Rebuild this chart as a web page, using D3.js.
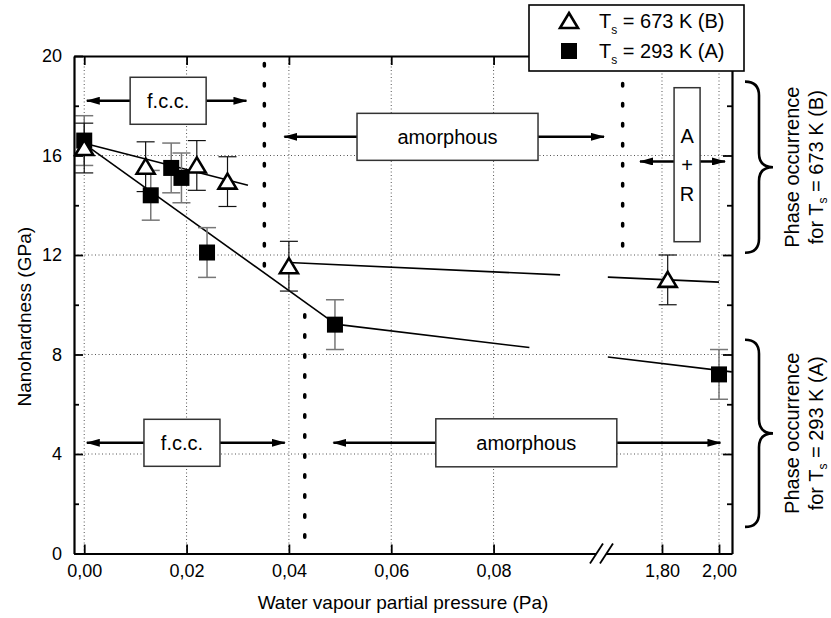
<!DOCTYPE html>
<html>
<head>
<meta charset="utf-8">
<script src="https://cdn.jsdelivr.net/npm/d3@7"></script>
<style>
  body { margin: 0; background: #fff; }
  text { font-family: "Liberation Sans", Arial, sans-serif; fill: #000; }
</style>
</head>
<body>
<div id="chart"></div>
<script>
// ---- data ----
const xTicks = [0, 0.02, 0.04, 0.06, 0.08, 1.80, 2.00];
const xTickLabels = ["0,00", "0,02", "0,04", "0,06", "0,08", "1,80", "2,00"];
const yTicks = [0, 4, 8, 12, 16, 20];
const yMinorTicks = [2, 6, 10, 14, 18];

// Ts = 293 K (A), filled squares
const pressA = [0, 0.013, 0.017, 0.019, 0.024, 0.049, 2.00];
const hardA  = [16.6, 14.4, 15.5, 15.1, 12.1, 9.2, 7.2];
const errA   = [1.0, 1.0, 1.0, 1.0, 1.0, 1.0, 1.0];

// Ts = 673 K (B), open triangles
const pressB = [0, 0.012, 0.022, 0.028, 0.040, 1.82];
const hardB  = [16.3, 15.55, 15.6, 14.95, 11.55, 11.0];
const errB   = [1.0, 1.0, 1.0, 1.0, 1.0, 1.0];

// guide lines, each segment [[x1,y1],[x2,y2]]
const fitB = [[[0, 16.49], [0.032, 14.8]], [[0.040, 11.7], [0.093, 11.2]], [[1.61, 11.11], [2.00, 10.91]]];
const fitA = [[[0, 16.47], [0.049, 9.24]], [[0.049, 9.22], [0.087, 8.28]], [[1.61, 7.90], [2.045, 7.30]]];

// phase annotations
const phaseLabels  = ["f.c.c.", "amorphous", "A+R", "f.c.c.", "amorphous"];
const phaseX       = [0.0164, 0.0710, 1.888, 0.0191, 0.0864];
const phaseY       = [18.2, 16.75, 15.63, 4.45, 4.45];
const arrowY       = [18.2, 16.75, 15.76, 4.45, 4.45];
const arrowLeft    = [0.0005, 0.0391, 1.7228, 0.0005, 0.0487];
const arrowRight   = [0.0317, 1.5965, 2.021, 0.0392, 2.005];

// dotted phase boundaries
const boundX      = [0.0352, 0.0431, 1.662];
const boundTop    = [19.7, 9.6, 19.7];
const boundBottom = [11.5, 0.4, 11.9];

// braces on the right
const braceTop    = [18.97, 8.59];
const braceBottom = [12.09, 1.07];
const braceTemp   = ["673 K (B)", "293 K (A)"];

const legendTemp = ["673 K (B)", "293 K (A)"];

// ---- layout ----
const margin = { top: 56, left: 74 };
const width = 658, height = 497.5;

const svg = d3.select("#chart").append("svg")
  .attr("width", 831).attr("height", 618);

const defs = svg.append("defs");
defs.append("marker")
  .attr("id", "arr")
  .attr("viewBox", "0 0 14 8")
  .attr("markerWidth", 14).attr("markerHeight", 8)
  .attr("refX", 13).attr("refY", 4)
  .attr("markerUnits", "userSpaceOnUse")
  .attr("orient", "auto")
  .append("path").attr("d", "M0,0 L14,4 L0,8 Z").attr("fill", "#000");

const g = svg.append("g").attr("transform", `translate(${margin.left},${margin.top})`);

// broken x axis: 0..0.1 then 1.58..2.05
const breakLo = 0.1008, breakHi = 1.5825;
const x = d3.scaleLinear()
  .domain([-0.002, breakLo, breakHi, 2.0456])
  .range([0, 526, 526, width]);
const y = d3.scaleLinear().domain([0, 20]).range([height, 0]);

// grid
g.append("g").selectAll("line").data(xTicks).join("line")
  .attr("x1", d => x(d)).attr("x2", d => x(d))
  .attr("y1", 0).attr("y2", height)
  .attr("stroke", "#555").attr("stroke-width", 1).attr("stroke-dasharray", "1,2.5");
g.append("g").selectAll("line").data(yTicks.filter(d => d > 0 && d < 20)).join("line")
  .attr("x1", 0).attr("x2", width)
  .attr("y1", d => y(d)).attr("y2", d => y(d))
  .attr("stroke", "#555").attr("stroke-width", 1).attr("stroke-dasharray", "1,2.5");

// dotted phase boundaries
boundX.forEach((bx, i) => {
  g.append("line")
    .attr("x1", x(bx)).attr("x2", x(bx))
    .attr("y1", y(boundTop[i])).attr("y2", y(boundBottom[i]))
    .attr("stroke", "#000").attr("stroke-width", 3.5)
    .attr("stroke-linecap", "round")
    .attr("stroke-dasharray", "2.5,17.5");
});

// phase boxes with arrows
const boxW = [76, 181, 26, 76, 181];
const boxH = [47, 47, 154, 47, 48];
phaseLabels.forEach((lab, i) => {
  const cx = x(phaseX[i]), cy = y(phaseY[i]), ay = y(arrowY[i]);
  const left = cx - boxW[i] / 2, right = cx + boxW[i] / 2;
  g.append("line").attr("x1", left).attr("x2", x(arrowLeft[i]))
    .attr("y1", ay).attr("y2", ay)
    .attr("stroke", "#000").attr("stroke-width", 2.5).attr("marker-end", "url(#arr)");
  g.append("line").attr("x1", right).attr("x2", x(arrowRight[i]))
    .attr("y1", ay).attr("y2", ay)
    .attr("stroke", "#000").attr("stroke-width", 2.5).attr("marker-end", "url(#arr)");
  g.append("rect")
    .attr("x", left).attr("y", cy - boxH[i] / 2)
    .attr("width", boxW[i]).attr("height", boxH[i])
    .attr("fill", "#fff").attr("stroke", "#333").attr("stroke-width", 1.5);
  if (lab === "A+R") {
    ["A", "+", "R"].forEach((c, k) => {
      g.append("text").attr("x", cx).attr("y", cy + (k - 1) * 29)
        .attr("text-anchor", "middle").attr("dominant-baseline", "central")
        .style("font-size", "20px").text(c);
    });
  } else {
    g.append("text").attr("x", cx).attr("y", cy)
      .attr("text-anchor", "middle").attr("dominant-baseline", "central")
      .style("font-size", "20px").text(lab);
  }
});

// guide lines
const line = d3.line().x(d => x(d[0])).y(d => y(d[1]));
fitA.concat(fitB).forEach(seg => {
  g.append("path").attr("d", line(seg))
    .attr("fill", "none").attr("stroke", "#000").attr("stroke-width", 1.6);
});

// error bars
function errorBars(px, py, pe, col, sw) {
  const eg = g.append("g").attr("stroke", col).attr("stroke-width", sw);
  px.forEach((v, i) => {
    const cx = x(v);
    eg.append("line").attr("x1", cx).attr("x2", cx)
      .attr("y1", y(py[i] + pe[i])).attr("y2", y(py[i] - pe[i]));
    [py[i] + pe[i], py[i] - pe[i]].forEach(e => {
      eg.append("line").attr("x1", cx - 9).attr("x2", cx + 9)
        .attr("y1", y(e)).attr("y2", y(e));
    });
  });
}
errorBars(pressA, hardA, errA, "#777", 1.5);
errorBars(pressB, hardB, errB, "#111", 1.2);

// markers
const triPath = "M0,-8 L9,7 L-9,7 Z";
g.append("g").selectAll("rect").data(pressA).join("rect")
  .attr("x", d => x(d) - 8).attr("y", (d, i) => y(hardA[i]) - 8)
  .attr("width", 16).attr("height", 16).attr("fill", "#000");
g.append("g").selectAll("path").data(pressB).join("path")
  .attr("d", triPath)
  .attr("transform", (d, i) => `translate(${x(d)},${y(hardB[i])})`)
  .attr("fill", "#fff").attr("stroke", "#000").attr("stroke-width", 2.6)
  .attr("stroke-linejoin", "miter");

// axes
const axisStyle = sel => {
  sel.select(".domain").attr("stroke-width", 2.2);
  sel.selectAll(".tick line").attr("stroke-width", 1.8);
  sel.selectAll("text").style("font-size", "18px").style("font-family", '"Liberation Sans", Arial, sans-serif');
};
g.append("g").attr("transform", `translate(0,${height})`)
  .call(d3.axisBottom(x).tickValues(xTicks).tickFormat((d, i) => xTickLabels[i])
    .tickSizeInner(-9).tickSizeOuter(0).tickPadding(11))
  .call(axisStyle);
g.append("g")
  .call(d3.axisTop(x).tickValues(xTicks).tickFormat("").tickSizeInner(-9).tickSizeOuter(0))
  .call(axisStyle);
g.append("g")
  .call(d3.axisLeft(y).tickValues(yTicks).tickSizeInner(-9).tickSizeOuter(0).tickPadding(12))
  .call(axisStyle);
g.append("g")
  .call(d3.axisLeft(y).tickValues(yMinorTicks).tickFormat("").tickSizeInner(-5).tickSizeOuter(0))
  .call(axisStyle).select(".domain").remove();
g.append("g").attr("transform", `translate(${width},0)`)
  .call(d3.axisRight(y).tickValues(yTicks).tickFormat("").tickSizeInner(-9).tickSizeOuter(0))
  .call(axisStyle);
g.append("g").attr("transform", `translate(${width},0)`)
  .call(d3.axisRight(y).tickValues(yMinorTicks).tickFormat("").tickSizeInner(-5).tickSizeOuter(0))
  .call(axisStyle).select(".domain").remove();

// axis break marks
const bx = x(breakLo);
g.append("rect").attr("x", bx - 4).attr("y", height - 3).attr("width", 10).attr("height", 6).attr("fill", "#fff");
[[-10, 3], [0, 13]].forEach(o => {
  g.append("line")
    .attr("x1", bx + o[0]).attr("y1", height + 10)
    .attr("x2", bx + o[1]).attr("y2", height - 10)
    .attr("stroke", "#000").attr("stroke-width", 1.8);
});

// axis titles
svg.append("text")
  .attr("x", margin.left + width / 2).attr("y", 609)
  .attr("text-anchor", "middle").style("font-size", "19px")
  .text("Water vapour partial pressure (Pa)");
svg.append("text")
  .attr("transform", `translate(31,${margin.top + height / 2 + 12}) rotate(-90)`)
  .attr("text-anchor", "middle").style("font-size", "19px")
  .text("Nanohardness (GPa)");

// braces and phase occurrence labels
braceTop.forEach((t, i) => {
  const y0 = margin.top + y(t), y1 = margin.top + y(braceBottom[i]);
  const mid = (y0 + y1) / 2, r = 14;
  const x0 = 745, x1 = 759, x2 = 773;
  const p = `M${x0},${y0} Q${x1},${y0} ${x1},${y0 + r} L${x1},${mid - r} Q${x1},${mid} ${x2},${mid}` +
            ` Q${x1},${mid} ${x1},${mid + r} L${x1},${y1 - r} Q${x1},${y1} ${x0},${y1}`;
  svg.append("path").attr("d", p).attr("fill", "none").attr("stroke", "#000").attr("stroke-width", 2.6);
  svg.append("text")
    .attr("transform", `translate(799,${mid}) rotate(-90)`)
    .attr("text-anchor", "middle").style("font-size", "20px")
    .text("Phase occurrence");
  const t2 = svg.append("text")
    .attr("transform", `translate(823,${mid}) rotate(-90)`)
    .attr("text-anchor", "middle").style("font-size", "20px");
  t2.append("tspan").text("for T");
  t2.append("tspan").attr("dy", 4).style("font-size", "12px").text("s");
  t2.append("tspan").attr("dy", -4).text(" = " + braceTemp[i]);
});

// legend
const lg = svg.append("g");
lg.append("rect").attr("x", 529).attr("y", 5).attr("width", 215).attr("height", 66)
  .attr("fill", "#fff").attr("stroke", "#000").attr("stroke-width", 1.6);
legendTemp.forEach((lab, i) => {
  const cy = 21 + i * 30;
  if (i === 0) {
    lg.append("path").attr("d", triPath).attr("transform", `translate(569,${cy})`)
      .attr("fill", "#fff").attr("stroke", "#000").attr("stroke-width", 2.6);
  } else {
    lg.append("rect").attr("x", 561).attr("y", cy - 8).attr("width", 16).attr("height", 16).attr("fill", "#000");
  }
  const t = lg.append("text").attr("x", 599).attr("y", cy + 7).style("font-size", "20px");
  t.append("tspan").text("T");
  t.append("tspan").attr("dy", 6).style("font-size", "12px").text("s");
  t.append("tspan").attr("dy", -6).text(" = " + lab);
});
</script>
</body>
</html>
